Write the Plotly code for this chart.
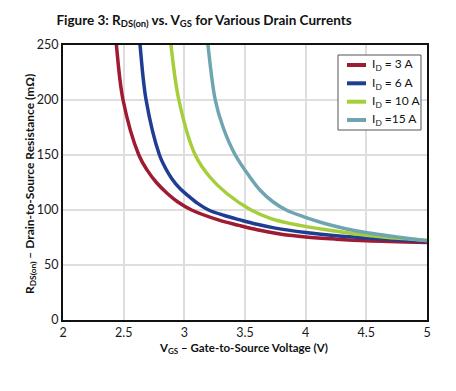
import plotly.graph_objects as go

# Data (V_GS in volts, R_DS(on) in mOhm)
vgs_3a = [2.43, 2.44, 2.495, 2.625, 2.695, 2.77, 2.86, 2.95, 3.06, 3.28, 3.45, 3.6, 3.8, 4.0, 4.25, 4.5, 5.0]
r_3a = [262, 250, 200, 150, 136, 125, 115, 107, 100, 91, 86, 82, 78, 75.5, 73.5, 72, 70.5]

vgs_6a = [2.625, 2.635, 2.685, 2.795, 2.845, 2.9, 2.96, 3.03, 3.11, 3.2, 3.33, 3.46, 3.6, 3.75, 4.0, 4.25, 4.5, 4.75, 5.0]
r_6a = [262, 250, 200, 150, 138, 128, 120, 113, 106, 100, 95, 91, 87, 83.5, 79.5, 76.5, 74.5, 73, 71.5]

vgs_10a = [2.88, 2.89, 2.955, 3.09, 3.21, 3.35, 3.55, 3.72, 3.95, 4.17, 4.4, 4.6, 4.8, 5.0]
r_10a = [262, 250, 200, 150, 130, 115, 100, 92, 86, 82, 78.5, 76, 74, 72.5]

vgs_15a = [3.185, 3.195, 3.255, 3.32, 3.42, 3.54, 3.625, 3.73, 3.84, 3.98, 4.15, 4.33, 4.52, 4.75, 5.0]
r_15a = [262, 250, 200, 175, 150, 130, 118, 107.5, 100, 94, 88, 83, 79, 75.5, 72]

labels = ["I<sub>D</sub> = 3 A", "I<sub>D</sub> = 6 A", "I<sub>D</sub> = 10 A", "I<sub>D</sub> =15 A"]
colors = ["#9e1b32", "#1f3d92", "#a6ce39", "#6fa5b0"]

x_ticks = [2, 2.5, 3, 3.5, 4, 4.5, 5]
y_ticks = [0, 50, 100, 150, 200, 250]

title_text = "<b>Figure 3: R<sub>DS(on)</sub> vs. V<sub>GS</sub> for Various Drain Currents</b>"
x_title = "<b>V<sub>GS</sub> – Gate-to-Source Voltage (V)</b>"
y_title = "<b>R<sub>DS(on)</sub> – Drain-to-Source Resistance (mΩ)</b>"

FONT = "Lato, Roboto, sans-serif"

fig = go.Figure()
for xs, ys, name, c in zip([vgs_3a, vgs_6a, vgs_10a, vgs_15a],
                           [r_3a, r_6a, r_10a, r_15a], labels, colors):
    fig.add_trace(go.Scatter(x=xs, y=ys, mode="lines", name=name, showlegend=False,
                             line=dict(color=c, width=3.5, shape="spline", smoothing=1.0)))

# Legend drawn as a boxed key in paper coordinates
legend_x0, legend_x1, legend_y0, legend_y1 = 0.7555, 0.9835, 0.6909, 0.9636
key_ys = [0.9273, 0.8607, 0.7938, 0.7273]
shapes = [dict(type="rect", xref="paper", yref="paper", x0=legend_x0, x1=legend_x1,
               y0=legend_y0, y1=legend_y1, line=dict(color="#555555", width=1),
               fillcolor="white", layer="above")]
annotations = []
for ky, lab, c in zip(key_ys, labels, colors):
    shapes.append(dict(type="line", xref="paper", yref="paper", x0=0.7802, x1=0.8324,
                       y0=ky, y1=ky, line=dict(color=c, width=4), layer="above"))
    annotations.append(dict(text=lab, xref="paper", yref="paper", x=0.8434, y=ky,
                            xanchor="left", yanchor="middle", showarrow=False,
                            font=dict(size=12, color="#111111")))

annotations += [
    dict(text=x_title, xref="paper", yref="paper", x=0.495, y=-0.105,
         xanchor="center", yanchor="middle", showarrow=False,
         font=dict(size=11.5, color="#111111")),
    dict(text=y_title, xref="paper", yref="paper", x=-0.0907, y=0.4945,
         xanchor="center", yanchor="middle", showarrow=False, textangle=-90,
         font=dict(size=12, color="#111111")),
]

fig.update_layout(
    width=448, height=383,
    margin=dict(l=55, r=29, t=37, b=71),
    paper_bgcolor="white", plot_bgcolor="white",
    font=dict(family=FONT, color="#1a1a1a", size=12),
    title=dict(text=title_text, x=0.4375, xanchor="center", y=0.969, yanchor="middle",
               font=dict(family=FONT, size=13.5, color="#111111")),
    xaxis=dict(range=[2, 5], tickvals=x_ticks, ticktext=[str(v) for v in x_ticks],
               showgrid=True, gridcolor="#dedede", gridwidth=1.5,
               showline=True, linecolor="#111111", linewidth=2, mirror=True,
               ticks="", zeroline=False, tickfont=dict(size=12.5), automargin=False),
    yaxis=dict(range=[0, 250], tickvals=y_ticks,
               showgrid=True, gridcolor="#dedede", gridwidth=1.5,
               showline=True, linecolor="#111111", linewidth=2, mirror=True,
               ticks="", zeroline=False, tickfont=dict(size=12.5), automargin=False),
    showlegend=False,
    shapes=shapes,
    annotations=annotations,
)

fig.write_html("out.html")
